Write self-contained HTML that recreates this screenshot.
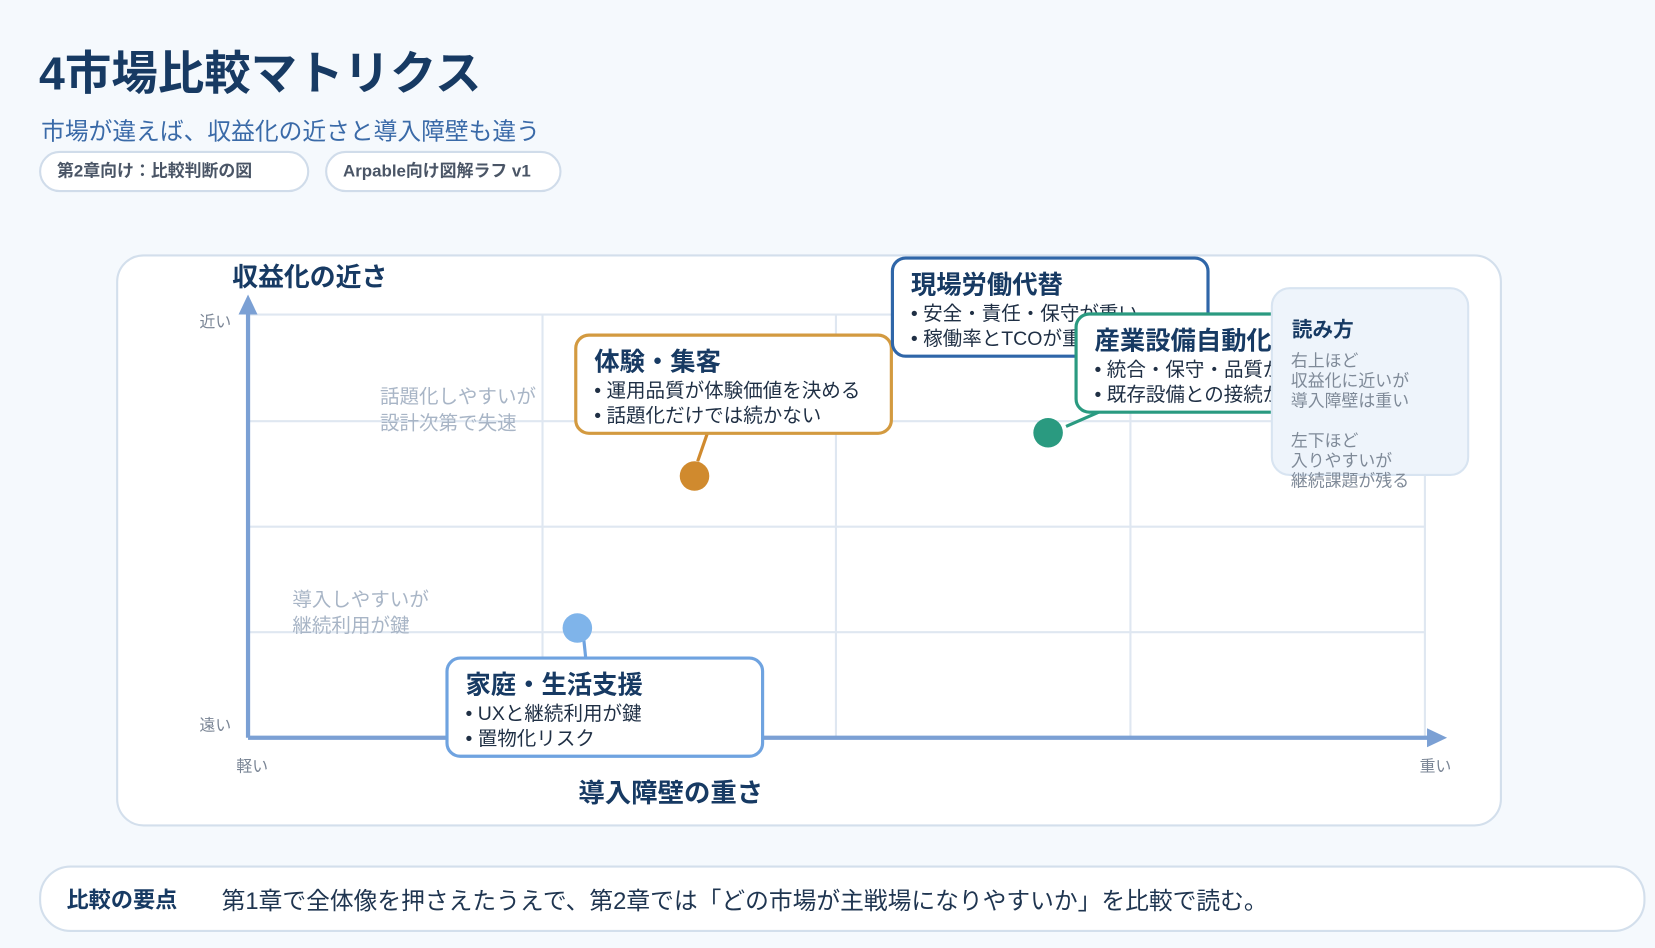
<!DOCTYPE html>
<html><head><meta charset="utf-8"><style>
*{margin:0;padding:0;box-sizing:border-box}
html,body{width:1655px;height:948px;overflow:hidden;background:#f5f9fd}
#w{position:absolute;left:0;top:0;width:1568px;height:898px;transform:scale(1.05549);transform-origin:0 0;font-family:"Liberation Sans","Noto Sans CJK JP",sans-serif}
.a{position:absolute;white-space:nowrap}
.pill{position:absolute;height:39px;border:2px solid #d0dcea;border-radius:20px;background:#fff;font-size:16px;font-weight:bold;color:#4a5566;padding-left:15px;line-height:35px}
.box{position:absolute;width:302px;height:96px;border:3px solid;border-radius:14px;background:#fff;padding:10px 0 0 16px;overflow:hidden}
.box b{display:block;font-size:24px;color:#173a63;line-height:29px}
.box div{font-size:18.5px;color:#1f2f44;line-height:24px;white-space:nowrap}
.g{color:#a8b5c6;font-size:18.5px;line-height:25px}
.s{color:#7a8595;font-size:15px}
</style></head><body><div id="w">
<div class="a" style="left:37px;top:34px;font-size:44px;font-weight:bold;color:#173a63">4市場比較マトリクス</div>
<div class="a" style="left:39px;top:107px;font-size:22.5px;color:#3a6aa8">市場が違えば、収益化の近さと導入障壁も違う</div>
<div class="pill" style="left:37px;top:143px;width:256px">第2章向け：比較判断の図</div>
<div class="pill" style="left:308px;top:143px;width:224px">Arpable向け図解ラフ v1</div>

<div class="a" style="left:110px;top:241px;width:1313px;height:542px;border:2px solid #d3dfec;border-radius:26px;background:#fff"></div>
<svg class="a" style="left:0;top:0" width="1568" height="898">
<g stroke="#dfe7f1" stroke-width="2">
<line x1="514" y1="298" x2="514" y2="699"/><line x1="792" y1="298" x2="792" y2="699"/><line x1="1071" y1="298" x2="1071" y2="699"/><line x1="1350" y1="298" x2="1350" y2="699"/>
<line x1="235" y1="298" x2="1350" y2="298"/><line x1="235" y1="399" x2="1350" y2="399"/><line x1="235" y1="499" x2="1350" y2="499"/><line x1="235" y1="599" x2="1350" y2="599"/>
</g>
<line x1="235" y1="699" x2="235" y2="295" stroke="#7ba0d4" stroke-width="4"/>
<polygon points="235,279 226,298 244,298" fill="#7ba0d4"/>
<line x1="235" y1="699" x2="1355" y2="699" stroke="#7ba0d4" stroke-width="4"/>
<polygon points="1371,699 1352,690 1352,708" fill="#7ba0d4"/>
<line x1="670" y1="411" x2="661" y2="437" stroke="#d08a2e" stroke-width="3"/>
<line x1="1010" y1="404" x2="1042" y2="390" stroke="#2a9a80" stroke-width="3"/>
<line x1="553" y1="605" x2="555" y2="624" stroke="#6fa3e0" stroke-width="3"/>
<circle cx="658" cy="451" r="14" fill="#d08a2e"/>
<circle cx="993" cy="410" r="14" fill="#2a9a80"/>
<circle cx="547" cy="595" r="14" fill="#7fb4ea"/>
</svg>
<div class="a" style="left:220px;top:244px;font-size:24.5px;font-weight:bold;color:#173a63">収益化の近さ</div>
<div class="a s" style="left:189px;top:294px">近い</div>
<div class="a s" style="left:189px;top:676px">遠い</div>
<div class="a s" style="left:224px;top:715px">軽い</div>
<div class="a s" style="left:1345px;top:715px">重い</div>
<div class="a" style="left:548px;top:732px;font-size:25px;font-weight:bold;color:#173a63">導入障壁の重さ</div>
<div class="a g" style="left:360px;top:363px">話題化しやすいが<br>設計次第で失速</div>
<div class="a g" style="left:277px;top:555px">導入しやすいが<br>継続利用が鍵</div>

<div class="box" style="left:544px;top:316px;border-color:#d39a40"><b>体験・集客</b><div>• 運用品質が体験価値を決める</div><div>• 話題化だけでは続かない</div></div>
<div class="box" style="left:844px;top:243px;border-color:#2f66a8"><b>現場労働代替</b><div>• 安全・責任・保守が重い</div><div>• 稼働率とTCOが重要</div></div>
<div class="box" style="left:1018px;top:296px;border-color:#2a9a80"><b>産業設備自動化</b><div>• 統合・保守・品質が重い</div><div>• 既存設備との接続が鍵</div></div>
<div class="box" style="left:422px;top:622px;border-color:#6fa3e0"><b>家庭・生活支援</b><div>• UXと継続利用が鍵</div><div>• 置物化リスク</div></div>

<div class="a" style="left:1204px;top:272px;width:188px;height:179px;background:#eef4fb;border:2px solid #d8e4f1;border-radius:18px"></div>
<div class="a" style="left:1224px;top:296px;font-size:19.5px;font-weight:bold;color:#173a63">読み方</div>
<div class="a" style="left:1223px;top:333px;font-size:16px;line-height:19px;color:#7f8a98">右上ほど<br>収益化に近いが<br>導入障壁は重い<br><br>左下ほど<br>入りやすいが<br>継続課題が残る</div>

<div class="a" style="left:37px;top:820px;width:1522px;height:63px;border:2px solid #d3dfec;border-radius:30px;background:#fff"></div>
<div class="a" style="left:63px;top:837px;font-size:21px;font-weight:bold;color:#173a63">比較の要点</div>
<div class="a" style="left:210px;top:836px;font-size:22.5px;color:#1f3550">第1章で全体像を押さえたうえで、第2章では「どの市場が主戦場になりやすいか」を比較で読む。</div>
</div></body></html>
